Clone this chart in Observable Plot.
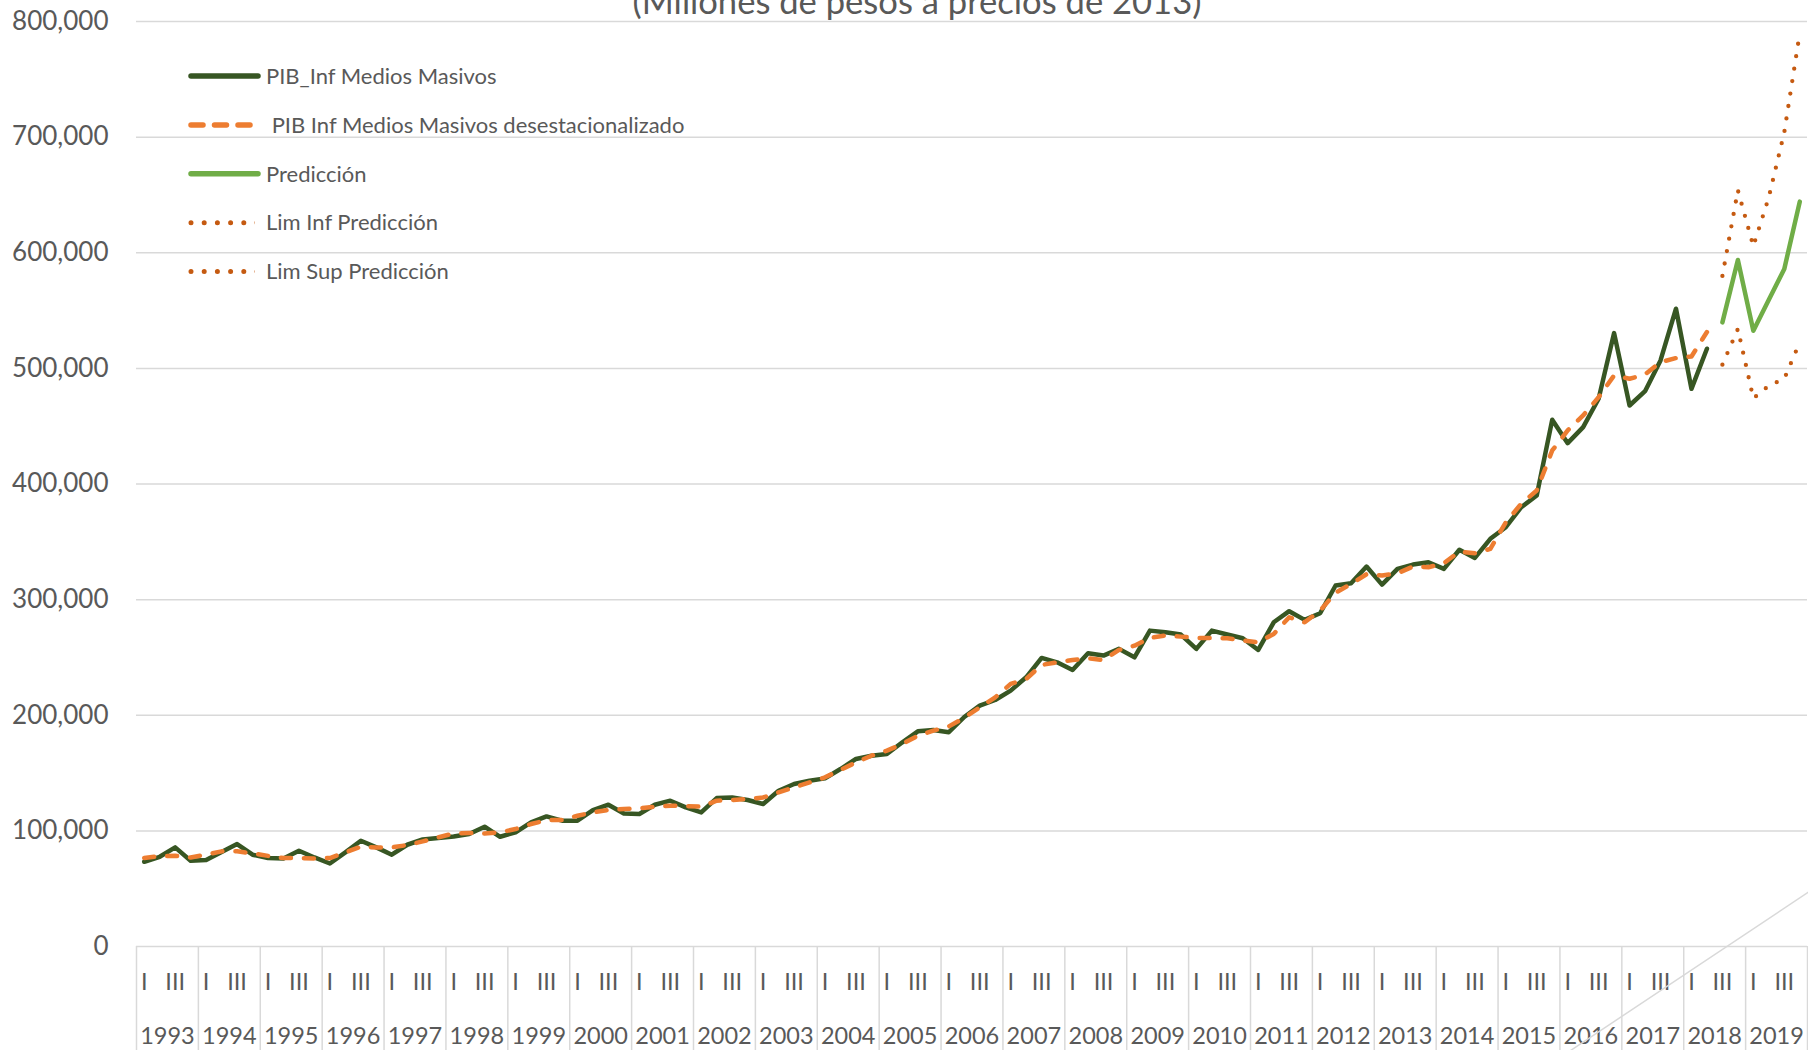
<!DOCTYPE html>
<html>
<head>
<meta charset="utf-8">
<script src="https://cdn.jsdelivr.net/npm/d3@7"></script>
<script src="https://cdn.jsdelivr.net/npm/@observablehq/plot@0.6"></script>
<style>
  html, body { margin: 0; padding: 0; background: #ffffff; overflow: hidden; }
  #wrap { position: relative; width: 1808px; height: 1050px; overflow: hidden; font-family: Lato, "Open Sans", sans-serif; }
  #chart { position: absolute; left: 0; top: 0; }
  .overlay { position: absolute; left: 0; top: 0; pointer-events: none; }
</style>
</head>
<body>
<div id="wrap">
  <div id="chart"></div>
  <svg id="title" class="overlay" width="1808" height="60"></svg>
  <svg id="legend" class="overlay" width="800" height="320"></svg>
</div>
<script>
// ---------- DATA ----------
const titleText = "(Millones de pesos a precios de 2013)";
const yearLabels = ["1993","1994","1995","1996","1997","1998","1999","2000","2001","2002","2003","2004","2005","2006","2007","2008","2009","2010","2011","2012","2013","2014","2015","2016","2017","2018","2019"];
const quarterLabels = ["I", "II", "III", "IV"];
const yTicks = [0, 100000, 200000, 300000, 400000, 500000, 600000, 700000, 800000];

// Quarterly, 1993-I .. 2018-II
const pib = [
  73300, 77600, 85700, 74200, 74800, 81700, 88600, 79400,
  76500, 76200, 82800, 77000, 71800, 81400, 91500, 85700,
  79400, 88000, 92600, 93800, 95200, 97300, 103600, 94900,
  98700, 107300, 112500, 108800, 108800, 118000, 122600, 115100,
  114600, 122600, 126100, 120300, 116000, 128400, 128900, 126700,
  123200, 134700, 140500, 143400, 145400, 153500, 162200, 165000,
  166500, 176600, 186100, 187300, 185300, 198500, 208300, 213200,
  221300, 232800, 249600, 245800, 239200, 253600, 251600, 257400,
  250100, 273200, 271700, 269800, 257400, 273200, 269800, 266600,
  256500, 280400, 290000, 282500, 288200, 312200, 314100, 328600,
  313000, 326600, 330300, 332300, 326600, 343100, 336100, 352600,
  362600, 379900, 390000, 455500, 435300, 449200, 473700, 530500,
  467900, 480300, 506900, 551600, 482300, 517000
];
const pibDesest = [
  76500, 78200, 78400, 77000, 79400, 82300, 82300, 80600,
  78400, 76500, 76500, 76200, 76500, 81400, 86300, 85700,
  85700, 87700, 90900, 94400, 97800, 98100, 97800, 98700,
  101600, 105900, 109300, 109400, 113100, 116000, 118000, 118900,
  119400, 120900, 121800, 121500, 120900, 126100, 126700, 127600,
  128900, 133300, 137600, 141900, 146300, 152700, 159200, 165000,
  169400, 175200, 182300, 186700, 190300, 197800, 206800, 215500,
  227100, 231400, 243500, 245800, 247800, 249200, 247800, 256500,
  260200, 266900, 268900, 268000, 266900, 266900, 266600, 264600,
  263100, 270300, 284700, 280400, 290500, 306000, 313600, 322000,
  320800, 322800, 328600, 328000, 331500, 341600, 340100, 343900,
  366900, 382900, 394400, 429000, 446300, 459300, 475100, 493900,
  491000, 494800, 505400, 508900, 510300, 531400
];
// Forecast, 2018-III .. 2019-IV
const prediccion   = [539800, 593800, 532600, 559400, 586000, 644200];
const limInfPred   = [503200, 534000, 474000, 485000, 491000, 522500];
const limSupPred   = [580000, 654000, 605600, 648000, 704200, 790000];
const predStart = 102; // quarter index of 2018-III

// faint grey straight line that crosses the lower-right corner
const greyLineX = [92.65, 108.1];
const greyLineY = [-90300, 47400];

const seriesNames = ["PIB_Inf Medios Masivos", " PIB Inf Medios Masivos desestacionalizado", "Predicción", "Lim Inf Predicción", "Lim Sup Predicción"];

// ---------- STYLES ----------
const C_DARK = "#375623", C_ORANGE = "#ED7D31", C_GREEN = "#70AD47", C_LIM = "#C55A11", C_GRID = "#D9D9D9", C_TEXT = "#595959";
const styles = [
  {stroke: C_DARK, strokeWidth: 4.5, strokeDasharray: null, strokeLinecap: "round"},
  {stroke: C_ORANGE, strokeWidth: 4.5, strokeDasharray: "10,13", strokeLinecap: "round"},
  {stroke: C_GREEN, strokeWidth: 4.5, strokeDasharray: null, strokeLinecap: "round"},
  {stroke: C_LIM, strokeWidth: 4.3, strokeDasharray: "0,12.6", strokeLinecap: "round"},
  {stroke: C_LIM, strokeWidth: 4.3, strokeDasharray: "0,12.6", strokeLinecap: "round"}
];

// ---------- BUILD ----------
const nQ = yearLabels.length * 4;
const toPts = (arr, start) => arr.map((v, k) => ({x: start + k + 0.5, y: v}));
const boundaries = d3.range(0, nQ + 1, 4);
const qTicks = d3.range(0, nQ).filter(q => q % 4 === 0 || q % 4 === 2).map(q => q + 0.5);
const yearTicks = d3.range(0, yearLabels.length).map(k => k * 4 + 2);
const greyLine = greyLineX.map((x, k) => ({x, y: greyLineY[k]}));

const chart = Plot.plot({
  width: 1808,
  height: 1050,
  marginLeft: 136,
  marginRight: 1,
  marginTop: 21,
  marginBottom: 104,
  x: {domain: [0, nQ], axis: null},
  y: {domain: [0, 800000], axis: null},
  style: {fontFamily: "Lato, 'Open Sans', sans-serif", color: C_TEXT, background: "#ffffff", overflow: "visible"},
  marks: [
    Plot.ruleY(yTicks, {y: d => d, stroke: C_GRID, strokeWidth: 1.5}),
    Plot.axisY({ticks: yTicks, tickSize: 0, tickPadding: 28, tickFormat: d3.format(","), fontSize: 26, fill: C_TEXT, label: null}),
    Plot.axisX({ticks: boundaries, tickSize: 104, tickFormat: () => "", stroke: C_GRID, strokeWidth: 1.5, label: null}),
    Plot.axisX({ticks: qTicks, tickSize: 0, tickPadding: 27, tickFormat: d => quarterLabels[Math.floor(d) % 4], fontSize: 23.5, fill: C_TEXT, label: null}),
    Plot.axisX({ticks: yearTicks, tickSize: 0, tickPadding: 81, tickFormat: d => yearLabels[Math.floor(d / 4)], fontSize: 23.5, fill: C_TEXT, label: null}),
    Plot.line(greyLine, {x: "x", y: "y", stroke: C_GRID, strokeWidth: 1.5}),
    Plot.line(toPts(pib, 0), {x: "x", y: "y", ...styles[0], strokeLinejoin: "round"}),
    Plot.line(toPts(pibDesest, 0), {x: "x", y: "y", ...styles[1], strokeLinejoin: "round"}),
    Plot.line(toPts(prediccion, predStart), {x: "x", y: "y", ...styles[2], strokeLinejoin: "round"}),
    Plot.line(toPts(limInfPred, predStart), {x: "x", y: "y", ...styles[3], strokeLinejoin: "round"}),
    Plot.line(toPts(limSupPred, predStart), {x: "x", y: "y", ...styles[4], strokeLinejoin: "round"})
  ]
});
document.getElementById("chart").appendChild(chart);

// Title (cut at the top edge as in the source)
const tsvg = d3.select("#title");
tsvg.append("text")
  .attr("x", 917).attr("y", 13.5)
  .attr("text-anchor", "middle")
  .attr("font-family", "Lato, 'Open Sans', sans-serif")
  .attr("font-size", 34.6)
  .attr("fill", C_TEXT)
  .text(titleText);

// Legend
const lsvg = d3.select("#legend");
const rowY0 = 76, rowStep = 48.9;
seriesNames.forEach((name, k) => {
  const y = rowY0 + k * rowStep;
  const s = styles[k];
  const dotted = k >= 3;
  lsvg.append("line")
    .attr("x1", 191).attr("x2", dotted ? 257 : 258)
    .attr("y1", y).attr("y2", y)
    .attr("stroke", s.stroke)
    .attr("stroke-width", dotted ? 5 : 5.5)
    .attr("stroke-linecap", "round")
    .attr("stroke-dasharray", k === 1 ? "12,11.5" : (dotted ? "0,13.2" : null));
  lsvg.append("text")
    .attr("x", 266).attr("y", y).attr("dy", "0.35em")
    .attr("font-family", "Lato, 'Open Sans', sans-serif")
    .attr("font-size", 22)
    .attr("fill", C_TEXT)
    .attr("xml:space", "preserve")
    .style("white-space", "pre")
    .text(name);
});
</script>
</body>
</html>
